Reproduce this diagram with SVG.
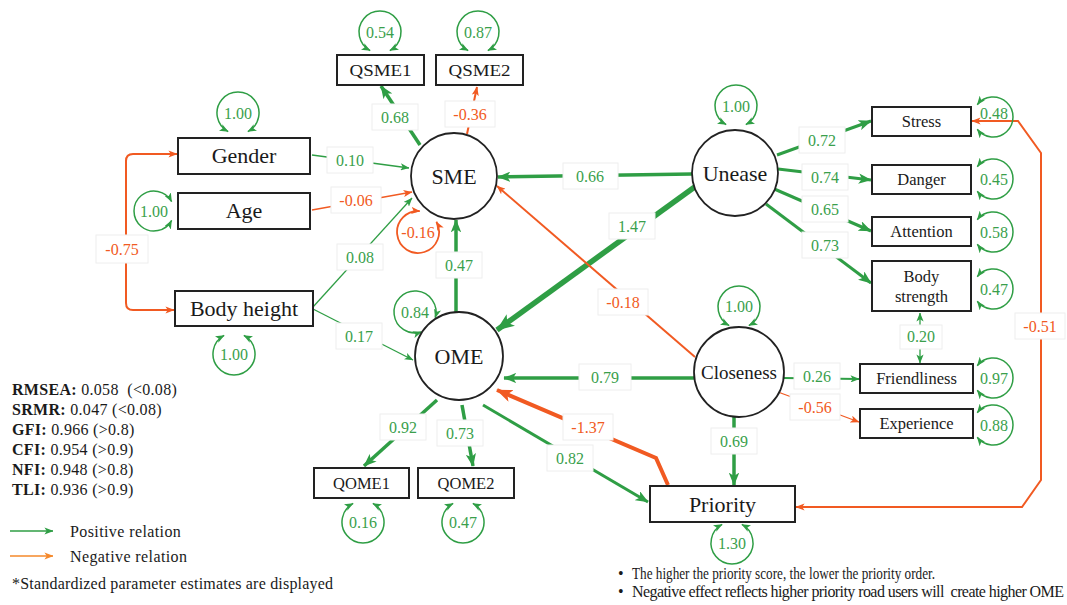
<svg xmlns="http://www.w3.org/2000/svg" width="1067" height="605" viewBox="0 0 1067 605">
<style>
.box{fill:#fff;stroke:#222;stroke-width:2}
.lat{fill:#fff;stroke:#222;stroke-width:1.8}
.nt{font-family:"Liberation Serif","Times New Roman",serif;fill:#1a1a1a;text-anchor:middle}
.g{stroke:#2f9e45;fill:none}
.o{stroke:#f15a22;fill:none}
.lt{font-family:"Liberation Serif","Times New Roman",serif;font-size:16px;text-anchor:middle}
.tg{fill:#3a9f4c}
.to{fill:#f15a22}
.lb{fill:#fff;stroke:#eeeeee;stroke-width:1}
.leg{font-family:"Liberation Serif","Times New Roman",serif;font-size:16px;fill:#1a1a1a}
</style>
<defs>
<marker id="ag" viewBox="0 0 10 8" refX="9.5" refY="4" markerUnits="userSpaceOnUse" markerWidth="9" markerHeight="7.2" orient="auto-start-reverse"><path d="M0,0 L10,4 L0,8 L2.5,4 z" fill="#2f9e45"/></marker>
<marker id="agm" viewBox="0 0 10 8" refX="9.5" refY="4" markerUnits="userSpaceOnUse" markerWidth="13" markerHeight="10.4" orient="auto-start-reverse"><path d="M0,0 L10,4 L0,8 L2.5,4 z" fill="#2f9e45"/></marker>
<marker id="agl" viewBox="0 0 10 8" refX="9.5" refY="4" markerUnits="userSpaceOnUse" markerWidth="18" markerHeight="14.4" orient="auto-start-reverse"><path d="M0,0 L10,4 L0,8 L2.5,4 z" fill="#2f9e45"/></marker>
<marker id="ao" viewBox="0 0 10 8" refX="9.5" refY="4" markerUnits="userSpaceOnUse" markerWidth="9" markerHeight="7.2" orient="auto-start-reverse"><path d="M0,0 L10,4 L0,8 L2.5,4 z" fill="#f15a22"/></marker>
<marker id="aol" viewBox="0 0 10 8" refX="9.5" refY="4" markerUnits="userSpaceOnUse" markerWidth="16" markerHeight="12.8" orient="auto-start-reverse"><path d="M0,0 L10,4 L0,8 L2.5,4 z" fill="#f15a22"/></marker>
<marker id="aleg" viewBox="0 0 10 8" refX="9.5" refY="4" markerUnits="userSpaceOnUse" markerWidth="9" markerHeight="7.2" orient="auto"><path d="M0,0 L10,4 L0,8 L2.5,4 z" fill="#f5882a"/></marker>
</defs>
<rect width="1067" height="605" fill="#fff"/>

<g id="connectors">
  <path class="g" stroke-width="1.3" d="M312,155 L409,168" marker-end="url(#ag)"/>
  <path class="o" stroke-width="1.3" d="M312,210 L412,192" marker-end="url(#ao)"/>
  <path class="g" stroke-width="1.3" d="M313,307 L412,198" marker-end="url(#ag)"/>
  <path class="g" stroke-width="1.3" d="M313,309 L413,360" marker-end="url(#ag)"/>
  <path class="g" stroke-width="3.5" d="M420,145 L381,86" marker-end="url(#agm)"/>
  <path class="o" stroke-width="2" d="M467,134 L477,87" marker-end="url(#ao)"/>
  <path class="g" stroke-width="3.5" d="M456,312 L456,220" marker-end="url(#agm)"/>
  <path class="g" stroke-width="3.5" d="M692,174 L498,177" marker-end="url(#agm)"/>
  <path class="g" stroke-width="5.5" d="M696,186 L497,330" marker-end="url(#agl)"/>
  <path class="o" stroke-width="2" d="M695,357 L497,186" marker-end="url(#ao)"/>
  <path class="g" stroke-width="3.5" d="M694,378 L504,378" marker-end="url(#agm)"/>
  <path class="g" stroke-width="3.5" d="M734,416 L734,485" marker-end="url(#agm)"/>
  <path class="g" stroke-width="2" d="M783,378 L859,379" marker-end="url(#ag)"/>
  <path class="o" stroke-width="1.3" d="M778,392 L859,422" marker-end="url(#ao)"/>
  <path class="g" stroke-width="3" d="M777,155 L871,121" marker-end="url(#agm)"/>
  <path class="g" stroke-width="3" d="M778,169 L871,180" marker-end="url(#agm)"/>
  <path class="g" stroke-width="3" d="M772,188 L871,231" marker-end="url(#agm)"/>
  <path class="g" stroke-width="3" d="M766,204 L871,283" marker-end="url(#agm)"/>
  <path class="g" stroke-width="1.3" d="M920,313 L920,363" marker-start="url(#ag)" marker-end="url(#ag)"/>
  <path class="o" stroke-width="2" d="M972,121 L1018,121 L1041,153 L1041,480 L1022,507 L796,507" marker-start="url(#ao)" marker-end="url(#ao)"/>
  <path class="o" stroke-width="2" d="M177,154 L133,154 Q126,154 126,161 L126,303 Q126,310 133,310 L174,310" marker-start="url(#ao)" marker-end="url(#ao)"/>
  <path class="g" stroke-width="3.5" d="M437,400 L364,466" marker-end="url(#agm)"/>
  <path class="g" stroke-width="3.5" d="M462,405 L473,466" marker-end="url(#agm)"/>
  <path class="g" stroke-width="3" d="M483,405 L648,502" marker-end="url(#agm)"/>
  <path class="o" stroke-width="4" d="M668,485 L656,458 L497,390" marker-end="url(#aol)"/>

  <path class="g" stroke-width="1.5" d="M228.14,131.54 A21,21 0 1 1 247.86,131.54" marker-start="url(#ag)" marker-end="url(#ag)"/>
  <path class="g" stroke-width="1.5" d="M171.66,220.39 A20,20 0 1 1 171.66,201.61" marker-start="url(#ag)" marker-end="url(#ag)"/>
  <path class="g" stroke-width="1.5" d="M243.86,335.46 A21,21 0 1 1 224.14,335.46" marker-start="url(#ag)" marker-end="url(#ag)"/>
  <path class="g" stroke-width="1.5" d="M370.14,50.54 A21,21 0 1 1 389.86,50.54" marker-start="url(#ag)" marker-end="url(#ag)"/>
  <path class="g" stroke-width="1.5" d="M468.14,50.54 A21,21 0 1 1 487.86,50.54" marker-start="url(#ag)" marker-end="url(#ag)"/>
  <path class="o" stroke-width="1.8" d="M436.4,221.8 A21,21 0 1 1 419.8,211.1" marker-start="url(#ao)" marker-end="url(#ao)"/>
  <path class="g" stroke-width="1.5" d="M726.14,124.54 A21,21 0 1 1 745.86,124.54" marker-start="url(#ag)" marker-end="url(#ag)"/>
  <path class="g" stroke-width="1.5" d="M977.24,104.69 A20,20 0 1 1 977.24,129.31" marker-start="url(#ag)" marker-end="url(#ag)"/>
  <path class="g" stroke-width="1.5" d="M977.24,166.69 A20,20 0 1 1 977.24,191.31" marker-start="url(#ag)" marker-end="url(#ag)"/>
  <path class="g" stroke-width="1.5" d="M977.24,219.69 A20,20 0 1 1 977.24,244.31" marker-start="url(#ag)" marker-end="url(#ag)"/>
  <path class="g" stroke-width="1.5" d="M977.24,276.69 A20,20 0 1 1 977.24,301.31" marker-start="url(#ag)" marker-end="url(#ag)"/>
  <path class="g" stroke-width="1.5" d="M977.24,365.69 A20,20 0 1 1 977.24,390.31" marker-start="url(#ag)" marker-end="url(#ag)"/>
  <path class="g" stroke-width="1.5" d="M977.24,412.69 A20,20 0 1 1 977.24,437.31" marker-start="url(#ag)" marker-end="url(#ag)"/>
  <path class="g" stroke-width="1.5" d="M421.5,332 A21,21 0 1 1 435.2,317.8" marker-start="url(#ag)" marker-end="url(#ag)"/>
  <path class="g" stroke-width="1.5" d="M729.14,325.54 A21,21 0 1 1 748.86,325.54" marker-start="url(#ag)" marker-end="url(#ag)"/>
  <path class="g" stroke-width="1.5" d="M372.86,503.46 A21,21 0 1 1 353.14,503.46" marker-start="url(#ag)" marker-end="url(#ag)"/>
  <path class="g" stroke-width="1.5" d="M472.86,503.46 A21,21 0 1 1 453.14,503.46" marker-start="url(#ag)" marker-end="url(#ag)"/>
  <path class="g" stroke-width="1.5" d="M741.86,524.46 A21,21 0 1 1 722.14,524.46" marker-start="url(#ag)" marker-end="url(#ag)"/>

  <rect class="lb" x="327" y="147" width="46" height="26"/>
  <rect class="lb" x="331" y="187" width="50" height="26"/>
  <rect class="lb" x="337" y="244" width="46" height="26"/>
  <rect class="lb" x="336" y="323" width="46" height="26"/>
  <rect class="lb" x="372" y="104" width="46" height="26"/>
  <rect class="lb" x="445" y="101" width="50" height="26"/>
  <rect class="lb" x="436" y="252" width="46" height="26"/>
  <rect class="lb" x="563" y="163" width="55" height="26"/>
  <rect class="lb" x="609" y="213" width="46" height="26"/>
  <rect class="lb" x="598" y="289" width="50" height="26"/>
  <rect class="lb" x="579" y="364" width="52" height="26"/>
  <rect class="lb" x="711" y="428" width="46" height="26"/>
  <rect class="lb" x="794" y="363" width="46" height="26"/>
  <rect class="lb" x="790" y="394" width="50" height="26"/>
  <rect class="lb" x="799" y="127" width="46" height="26"/>
  <rect class="lb" x="802" y="164" width="46" height="26"/>
  <rect class="lb" x="802" y="196" width="46" height="26"/>
  <rect class="lb" x="802" y="232" width="46" height="26"/>
  <rect class="lb" x="900" y="325" width="42" height="24"/>
  <rect class="lb" x="1015" y="313" width="50" height="26"/>
  <rect class="lb" x="96" y="235" width="52" height="28"/>
  <rect class="lb" x="380" y="414" width="46" height="26"/>
  <rect class="lb" x="437" y="420" width="46" height="26"/>
  <rect class="lb" x="547" y="445" width="46" height="26"/>
  <rect class="lb" x="563" y="414" width="50" height="26"/>

  <text class="lt tg" x="350" y="165.5">0.10</text>
  <text class="lt to" x="356" y="205.5">-0.06</text>
  <text class="lt tg" x="360" y="262.5">0.08</text>
  <text class="lt tg" x="359" y="341.5">0.17</text>
  <text class="lt tg" x="395" y="122.5">0.68</text>
  <text class="lt to" x="470" y="119.5">-0.36</text>
  <text class="lt tg" x="459" y="270.5">0.47</text>
  <text class="lt tg" x="590" y="181.5">0.66</text>
  <text class="lt tg" x="632" y="231.5">1.47</text>
  <text class="lt to" x="623" y="307.5">-0.18</text>
  <text class="lt tg" x="605" y="382.5">0.79</text>
  <text class="lt tg" x="734" y="446.5">0.69</text>
  <text class="lt tg" x="817" y="381.5">0.26</text>
  <text class="lt to" x="815" y="412.5">-0.56</text>
  <text class="lt tg" x="822" y="145.5">0.72</text>
  <text class="lt tg" x="825" y="182.5">0.74</text>
  <text class="lt tg" x="825" y="214.5">0.65</text>
  <text class="lt tg" x="825" y="250.5">0.73</text>
  <text class="lt tg" x="921" y="342" font-size="14">0.20</text>
  <text class="lt to" x="1040" y="331.5">-0.51</text>
  <text class="lt to" x="122" y="254.5">-0.75</text>
  <text class="lt tg" x="403" y="432.5">0.92</text>
  <text class="lt tg" x="460" y="438.5">0.73</text>
  <text class="lt tg" x="570" y="463.5">0.82</text>
  <text class="lt to" x="588" y="432.5">-1.37</text>

  <text class="lt tg" x="238" y="118.5">1.00</text>
  <text class="lt tg" x="154" y="216.5">1.00</text>
  <text class="lt tg" x="234" y="359.5">1.00</text>
  <text class="lt tg" x="380" y="37.5">0.54</text>
  <text class="lt tg" x="478" y="37.5">0.87</text>
  <text class="lt to" x="418" y="237.5">-0.16</text>
  <text class="lt tg" x="736" y="111.5">1.00</text>
  <text class="lt tg" x="994" y="118.5">0.48</text>
  <text class="lt tg" x="994" y="184.5">0.45</text>
  <text class="lt tg" x="994" y="237.5">0.58</text>
  <text class="lt tg" x="994" y="294.5">0.47</text>
  <text class="lt tg" x="994" y="383.5">0.97</text>
  <text class="lt tg" x="994" y="430.5">0.88</text>
  <text class="lt tg" x="415" y="317.5">0.84</text>
  <text class="lt tg" x="739" y="311.5">1.00</text>
  <text class="lt tg" x="363" y="527.5">0.16</text>
  <text class="lt tg" x="463" y="527.5">0.47</text>
  <text class="lt tg" x="732" y="548.5">1.30</text>
</g>

<g id="node-gender"><rect class="box" x="178" y="138" width="132" height="36"/><text class="nt" x="244" y="163" font-size="22">Gender</text></g>
<g id="node-age"><rect class="box" x="178" y="193" width="132" height="36"/><text class="nt" x="244" y="218" font-size="22">Age</text></g>
<g id="node-bodyheight"><rect class="box" x="175" y="291" width="138" height="35"/><text class="nt" x="244" y="316" font-size="22">Body height</text></g>
<g id="node-qsme1"><rect class="box" x="337" y="55" width="87" height="30"/><text class="nt" x="380.5" y="76" font-size="16.5" textLength="62" lengthAdjust="spacingAndGlyphs">QSME1</text></g>
<g id="node-qsme2"><rect class="box" x="436" y="55" width="87" height="30"/><text class="nt" x="479.5" y="76" font-size="16.5" textLength="62" lengthAdjust="spacingAndGlyphs">QSME2</text></g>
<g id="node-sme"><circle class="lat" cx="454" cy="176" r="43"/><text class="nt" x="454" y="184" font-size="22">SME</text></g>
<g id="node-ome"><circle class="lat" cx="459" cy="356" r="44"/><text class="nt" x="459" y="364" font-size="22">OME</text></g>
<g id="node-unease"><circle class="lat" cx="735" cy="173" r="43"/><text class="nt" x="735" y="181" font-size="22">Unease</text></g>
<g id="node-closeness"><circle class="lat" cx="739" cy="372" r="45"/><text class="nt" x="739" y="379" font-size="19">Closeness</text></g>
<g id="node-stress"><rect class="box" x="872" y="107" width="99" height="29"/><text class="nt" x="921.5" y="127" font-size="16.5">Stress</text></g>
<g id="node-danger"><rect class="box" x="872" y="165" width="99" height="29"/><text class="nt" x="921.5" y="185" font-size="16.5">Danger</text></g>
<g id="node-attention"><rect class="box" x="872" y="217" width="99" height="29"/><text class="nt" x="921.5" y="237" font-size="16.5">Attention</text></g>
<g id="node-bodystrength"><rect class="box" x="872" y="261" width="99" height="50"/><text class="nt" x="921.5" y="282" font-size="16.5">Body</text><text class="nt" x="921.5" y="302" font-size="16.5">strength</text></g>
<g id="node-friendliness"><rect class="box" x="860" y="364" width="113" height="29"/><text class="nt" x="916.5" y="384" font-size="16.5">Friendliness</text></g>
<g id="node-experience"><rect class="box" x="860" y="409" width="113" height="29"/><text class="nt" x="916.5" y="429" font-size="16.5">Experience</text></g>
<g id="node-qome1"><rect class="box" x="314" y="468" width="95" height="30"/><text class="nt" x="361.5" y="489" font-size="16.5">QOME1</text></g>
<g id="node-qome2"><rect class="box" x="418" y="468" width="96" height="30"/><text class="nt" x="466" y="489" font-size="16.5">QOME2</text></g>
<g id="node-priority"><rect class="box" x="650" y="486" width="145" height="36"/><text class="nt" x="722.5" y="512" font-size="22">Priority</text></g>

<g id="legend">
  <text class="leg" x="12" y="395" xml:space="preserve" letter-spacing="0.3"><tspan font-weight="bold">RMSEA:</tspan> 0.058  (&lt;0.08)</text>
  <text class="leg" x="12" y="415" letter-spacing="0.3"><tspan font-weight="bold">SRMR:</tspan> 0.047 (&lt;0.08)</text>
  <text class="leg" x="12" y="435" letter-spacing="0.3"><tspan font-weight="bold">GFI:</tspan> 0.966 (&gt;0.8)</text>
  <text class="leg" x="12" y="455" letter-spacing="0.3"><tspan font-weight="bold">CFI:</tspan> 0.954 (&gt;0.9)</text>
  <text class="leg" x="12" y="475" letter-spacing="0.3"><tspan font-weight="bold">NFI:</tspan> 0.948 (&gt;0.8)</text>
  <text class="leg" x="12" y="495" letter-spacing="0.3"><tspan font-weight="bold">TLI:</tspan> 0.936 (&gt;0.9)</text>
  <path class="g" stroke-width="1.3" d="M10,531 L53,531" marker-end="url(#ag)"/>
  <text class="leg" x="70" y="537" letter-spacing="0.4">Positive relation</text>
  <path stroke="#f5882a" fill="none" stroke-width="1.3" d="M10,556 L53,556" marker-end="url(#aleg)"/>
  <text class="leg" x="70" y="562" letter-spacing="0.4">Negative relation</text>
  <text class="leg" x="12" y="589" letter-spacing="0.2">*Standardized parameter estimates are displayed</text>
</g>

<g id="notes">
  <text class="leg" x="618" y="579" font-size="13">•</text>
  <text class="leg" x="632" y="579" font-size="13" textLength="303" lengthAdjust="spacingAndGlyphs">The higher the priority score, the lower the priority order.</text>
  <text class="leg" x="618" y="597" font-size="13">•</text>
  <text class="leg" x="632" y="597" font-size="13" textLength="432" lengthAdjust="spacing" xml:space="preserve">Negative effect reflects higher priority road users will  create higher OME</text>
</g>
</svg>
